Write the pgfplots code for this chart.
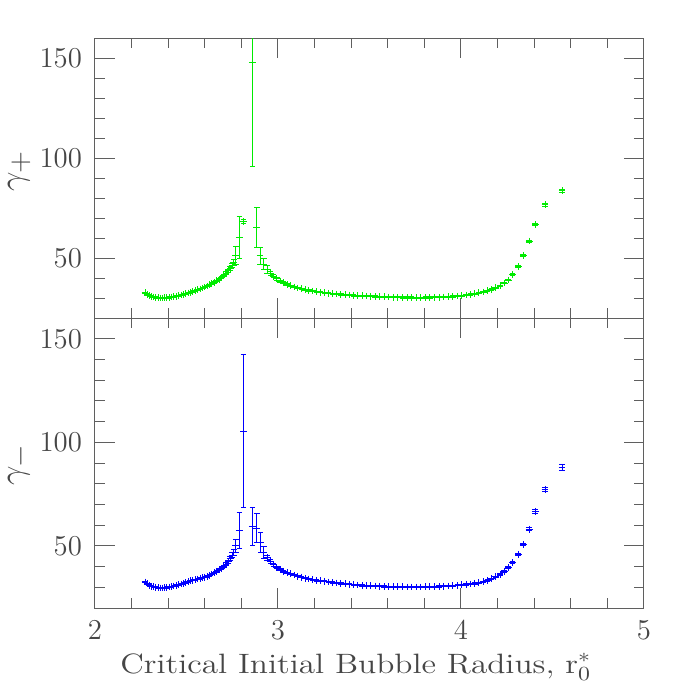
\documentclass[border=0pt]{standalone}
\usepackage{pgfplots}
\usepackage{pgfplotstable}
\pgfplotsset{compat=1.18}

\definecolor{pgreen}{RGB}{0,235,0}
\definecolor{pblue}{RGB}{0,0,255}
\definecolor{frame}{RGB}{95,95,95}
\definecolor{lbl}{RGB}{70,70,70}

% x  gamma  error
\pgfplotstableread{
x y ey
2.273 32.6 0.3
2.285 31.8 0.3
2.297 31.2 0.3
2.309 30.8 0.3
2.321 30.5 0.3
2.333 30.3 0.3
2.345 30.1 0.3
2.357 30.0 0.3
2.369 30.0 0.3
2.381 30.1 0.3
2.393 30.2 0.3
2.405 30.3 0.3
2.418 30.5 0.3
2.431 30.7 0.3
2.444 30.9 0.3
2.457 31.2 0.3
2.470 31.5 0.3
2.483 31.8 0.3
2.496 32.1 0.3
2.509 32.5 0.3
2.522 32.9 0.3
2.535 33.3 0.3
2.548 33.7 0.3
2.561 34.1 0.3
2.574 34.5 0.3
2.587 35.0 0.3
2.600 35.5 0.3
2.613 36.0 0.4
2.626 36.6 0.4
2.639 37.2 0.4
2.652 37.9 0.4
2.665 38.6 0.4
2.678 39.4 0.5
2.691 40.3 0.5
2.704 41.3 0.6
2.716 42.4 0.7
2.728 43.6 0.8
2.739 44.9 1.0
2.749 46.3 1.2
2.758 47.9 1.4
2.769 51.5 4.5
2.789 60.3 10.5
2.811 68.3 1.0
2.860 148.0 52.0
2.884 65.3 10.2
2.902 51.2 4.3
2.923 47.0 2.7
2.941 44.5 2.0
2.958 42.4 1.0
2.975 40.9 0.8
2.993 39.6 0.6
3.011 38.5 0.5
3.030 37.6 0.5
3.049 36.8 0.4
3.068 36.1 0.4
3.088 35.5 0.4
3.108 35.0 0.4
3.128 34.6 0.3
3.148 34.2 0.3
3.169 33.8 0.3
3.190 33.5 0.3
3.211 33.2 0.3
3.232 32.9 0.3
3.254 32.7 0.3
3.276 32.4 0.3
3.298 32.2 0.3
3.320 32.0 0.3
3.343 31.8 0.3
3.366 31.6 0.3
3.389 31.5 0.3
3.412 31.3 0.3
3.435 31.2 0.3
3.459 31.1 0.3
3.483 31.0 0.3
3.507 30.9 0.3
3.531 30.8 0.3
3.555 30.7 0.3
3.580 30.6 0.3
3.605 30.5 0.3
3.630 30.4 0.3
3.655 30.4 0.3
3.680 30.3 0.3
3.705 30.3 0.3
3.730 30.3 0.3
3.755 30.2 0.3
3.780 30.2 0.3
3.805 30.3 0.3
3.830 30.3 0.3
3.855 30.4 0.3
3.880 30.4 0.3
3.905 30.5 0.3
3.930 30.6 0.3
3.955 30.8 0.3
3.980 31.0 0.3
4.004 31.2 0.3
4.028 31.5 0.3
4.052 31.8 0.3
4.075 32.2 0.3
4.098 32.6 0.3
4.121 33.0 0.3
4.144 33.6 0.3
4.167 34.3 0.3
4.190 35.1 0.3
4.213 36.2 0.3
4.236 37.5 0.3
4.258 39.0 0.4
4.282 41.7 0.4
4.313 45.7 0.4
4.340 51.2 0.5
4.373 58.5 0.5
4.406 66.8 0.6
4.459 76.7 0.7
4.552 83.7 0.8
}\gplus

\pgfplotstableread{
x y ey
2.273 32.6 0.3
2.285 31.7 0.3
2.297 31.0 0.3
2.309 30.5 0.3
2.321 30.2 0.3
2.333 30.0 0.3
2.345 29.8 0.3
2.357 29.7 0.3
2.369 29.7 0.3
2.381 29.8 0.3
2.393 29.9 0.3
2.405 30.1 0.3
2.418 30.3 0.3
2.431 30.6 0.3
2.444 30.9 0.3
2.457 31.2 0.3
2.470 31.6 0.3
2.483 31.9 0.3
2.496 32.3 0.3
2.509 32.7 0.3
2.522 33.1 0.3
2.535 33.4 0.3
2.548 33.7 0.3
2.561 34.0 0.3
2.574 34.3 0.3
2.587 34.6 0.3
2.600 34.9 0.3
2.613 35.3 0.4
2.626 35.8 0.4
2.639 36.4 0.4
2.652 37.0 0.4
2.665 37.7 0.4
2.678 38.4 0.5
2.691 39.2 0.5
2.704 40.1 0.6
2.716 41.1 0.7
2.728 42.3 0.8
2.739 43.8 1.0
2.749 45.4 1.2
2.758 47.0 1.4
2.769 50.0 3.3
2.789 57.5 8.7
2.811 105.4 37.0
2.860 59.4 9.0
2.884 58.6 7.0
2.905 51.6 4.8
2.923 46.8 2.7
2.941 44.4 1.2
2.958 42.3 1.0
2.975 40.8 0.8
2.993 39.5 0.6
3.011 38.5 0.5
3.030 37.7 0.5
3.049 37.0 0.4
3.068 36.5 0.4
3.088 35.9 0.4
3.108 35.4 0.4
3.128 34.9 0.3
3.148 34.4 0.3
3.169 34.0 0.3
3.190 33.6 0.3
3.211 33.3 0.3
3.232 33.1 0.3
3.254 32.9 0.3
3.276 32.6 0.3
3.298 32.3 0.3
3.320 32.1 0.3
3.343 31.9 0.3
3.366 31.7 0.3
3.389 31.5 0.3
3.412 31.3 0.3
3.435 31.1 0.3
3.459 30.9 0.3
3.483 30.8 0.3
3.507 30.7 0.3
3.531 30.6 0.3
3.555 30.5 0.3
3.580 30.4 0.3
3.605 30.3 0.3
3.630 30.3 0.3
3.655 30.2 0.3
3.680 30.2 0.3
3.705 30.1 0.3
3.730 30.1 0.3
3.755 30.1 0.3
3.780 30.1 0.3
3.805 30.2 0.3
3.830 30.2 0.3
3.855 30.3 0.3
3.880 30.4 0.3
3.905 30.5 0.3
3.930 30.6 0.3
3.955 30.8 0.3
3.980 31.0 0.3
4.004 31.2 0.3
4.028 31.4 0.3
4.052 31.6 0.3
4.075 31.9 0.3
4.098 32.2 0.3
4.121 32.7 0.3
4.144 33.3 0.3
4.167 34.2 0.3
4.190 35.1 0.3
4.213 36.2 0.3
4.236 37.7 0.3
4.258 39.5 0.4
4.282 42.0 0.4
4.313 45.8 0.5
4.340 50.8 0.5
4.373 58.0 0.7
4.406 66.5 1.0
4.459 77.3 1.0
4.552 88.0 1.5
}\gminus

\pgfplotsset{
  panel/.style={
    scale only axis,
    width=274.5pt,
    xmin=2, xmax=5,
    ymin=20, ymax=160,
    xtick={2,3,4,5},
    minor xtick={2.2,2.4,2.6,2.8,3.2,3.4,3.6,3.8,4.2,4.4,4.6,4.8},
    ytick={50,100,150},
    minor ytick={30,40,60,70,80,90,110,120,130,140},
    tick align=inside,
    xtick pos=both, ytick pos=both,
    xticklabel pos=lower, yticklabel pos=left,
    major tick length=10pt,
    minor tick length=5pt,
    axis line style={frame, line width=0.5pt},
    every tick/.style={frame, line width=0.5pt},
    tick label style={font=\fontsize{15}{18}\selectfont, text=lbl},
    yticklabel style={xshift=-3pt},
    xticklabel style={yshift=-3pt},
    label style={font=\fontsize{15}{18}\selectfont, text=lbl},
    ylabel style={font=\fontsize{19}{22}\selectfont, anchor=center, rotate=0, inner sep=0pt},
    clip=true,
  },
  gdata/.style={
    only marks, mark=+, mark size=1.7pt, line width=0.45pt,
    error bars/.cd, y dir=both, y explicit,
    error bar style={line width=0.45pt},
    error mark options={rotate=90, mark size=1.4pt, line width=0.45pt},
  },
}

\begin{document}
\begin{tikzpicture}
\useasboundingbox (0,0) rectangle (340.5pt,-340.5pt);

\begin{axis}[panel,
    at={(47.5pt,-19pt)}, anchor=north west,
    height=140pt,
    xticklabels={},
    ylabel={$\gamma_+$},
    ylabel style={at={(axis description cs:-0.138,0.525)}},
]
\addplot[pgreen, gdata] table[x=x, y=y, y error=ey] {\gplus};
\end{axis}

\begin{axis}[panel,
    at={(47.5pt,-159pt)}, anchor=north west,
    height=145pt,
    ylabel={$\gamma_-$},
    ylabel style={at={(axis description cs:-0.138,0.493)}},
    xlabel={\fontsize{14}{17}\selectfont\scalebox{1.19}[1]{Critical Initial Bubble Radius, r$^*_0$}},
    xlabel style={at={(axis description cs:0.475,0)}, anchor=base, inner sep=0pt, yshift=-32.5pt},
]
\addplot[pblue, gdata] table[x=x, y=y, y error=ey] {\gminus};
\end{axis}
\end{tikzpicture}
\end{document}
